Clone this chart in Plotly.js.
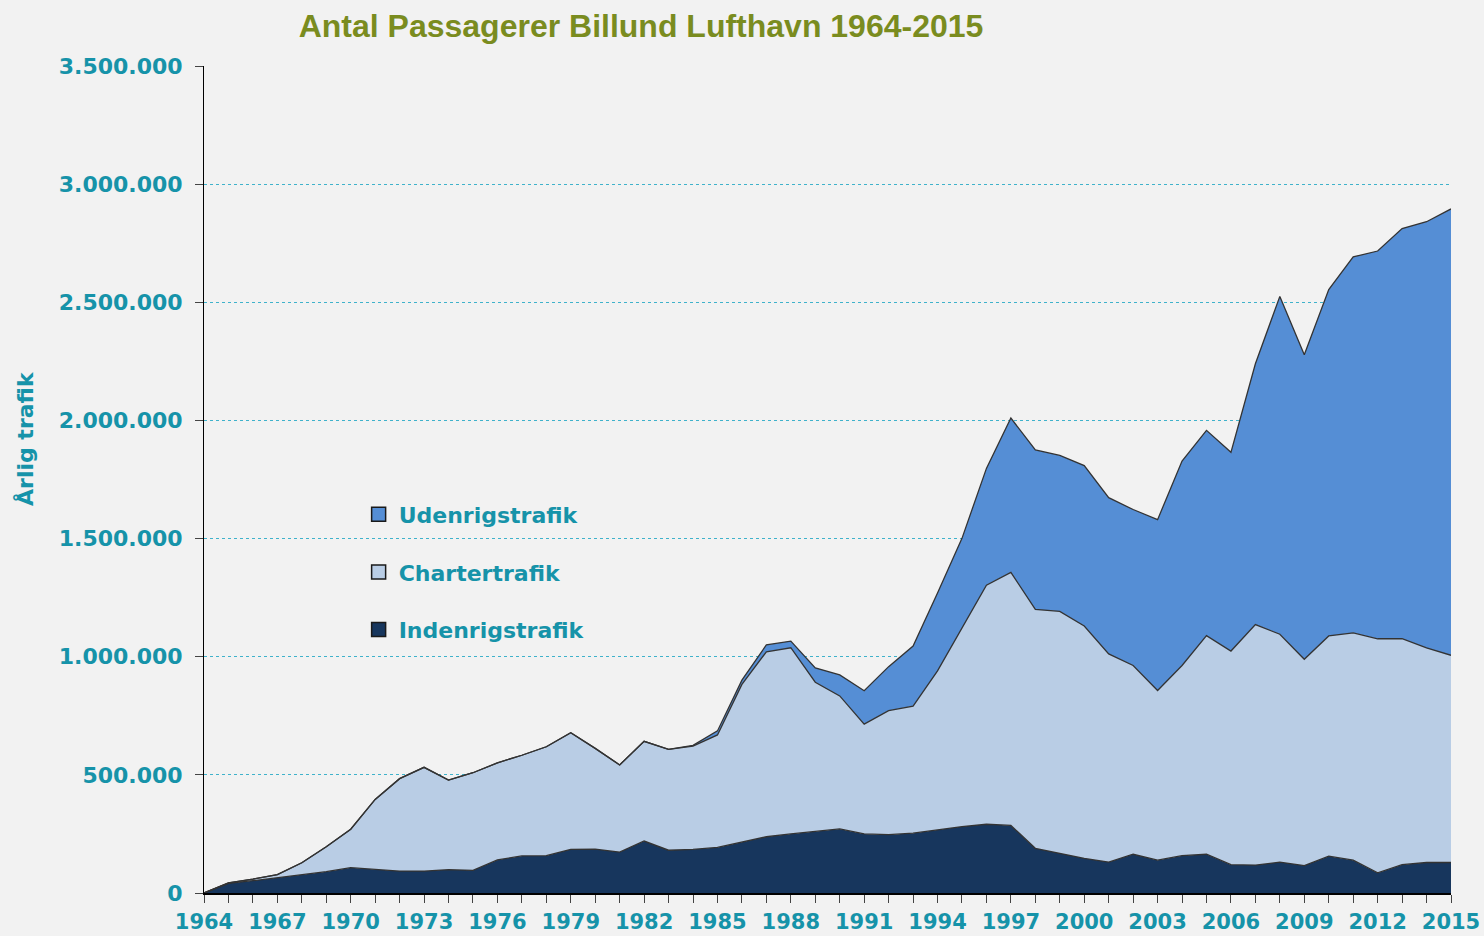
<!DOCTYPE html>
<html>
<head>
<meta charset="utf-8">
<script src="https://cdn.plot.ly/plotly-3.0.1.min.js"></script>
<style>
  html, body { margin: 0; padding: 0; background: #f2f2f2; }
  #chart { width: 1484px; height: 936px; }
</style>
</head>
<body>
<div id="chart"></div>
<script>
const years = [];
for (let y = 1964; y <= 2015; y++) years.push(y);

const indenrigstrafik = [
  0, 41000, 52000, 65000, 78000, 90000, 107000, 101000, 93000, 93000,
  99000, 96000, 140000, 157000, 158000, 185000, 186000, 173000, 220000, 181000,
  185000, 193000, 215000, 238000, 250000, 260000, 271000, 250000, 247000, 253000,
  267000, 281000, 291000, 286000, 189000, 168000, 147000, 131000, 164000, 139000,
  158000, 164000, 120000, 118000, 131000, 116000, 156000, 139000, 85000, 120000,
  129000, 129000
];

const chartertrafik = [
  0, 2000, 7000, 13000, 50000, 106000, 163000, 295000, 391000, 439000,
  379000, 413000, 411000, 426000, 461000, 493000, 426000, 369000, 422000, 427000,
  437000, 476000, 668000, 783000, 788000, 632000, 563000, 465000, 525000, 538000,
  673000, 843000, 1012000, 1071000, 1011000, 1024000, 983000, 881000, 799000, 718000,
  805000, 925000, 904000, 1018000, 964000, 873000, 932000, 962000, 991000, 956000,
  908000, 877000
];

const udenrigstrafik = [
  0, 0, 0, 0, 0, 0, 0, 0, 0, 0,
  0, 0, 0, 0, 0, 0, 0, 0, 0, 0,
  3000, 17000, 18000, 29000, 28000, 61000, 89000, 141000, 186000, 254000,
  330000, 377000, 494000, 653000, 675000, 660000, 679000, 661000, 660000, 723000,
  865000, 869000, 841000, 1104000, 1430000, 1289000, 1466000, 1591000, 1641000, 1736000,
  1804000, 1889000
];

const seriesNames = ["Indenrigstrafik", "Chartertrafik", "Udenrigstrafik"];
const seriesColors = ["#17365d", "#b9cde5", "#558ed5"];
const seriesData = [indenrigstrafik, chartertrafik, udenrigstrafik];

const teal = "#1693a9";
const lineColor = "#333333";

const traces = [];
seriesData.forEach((vals, i) => {
  traces.push({
    type: "scatter",
    mode: "lines",
    x: years,
    y: vals,
    stackgroup: "one",
    fillcolor: seriesColors[i],
    line: { color: lineColor, width: 1.3 },
    name: seriesNames[i],
    showlegend: false,
    hoverinfo: "x+y+name"
  });
});
// legend entries (square swatches), top to bottom: Udenrigs, Charter, Indenrigs
[2, 1, 0].forEach((i, k) => {
  traces.push({
    type: "scatter",
    mode: "markers",
    x: [null],
    y: [null],
    name: seriesNames[i],
    legendgroup: "g" + k,
    legendrank: k + 1,
    marker: { symbol: "square", size: 14, color: seriesColors[i], line: { color: "#1a1a1a", width: 1.5 } },
    showlegend: true
  });
});

const layout = {
  width: 1484,
  height: 936,
  paper_bgcolor: "#f2f2f2",
  plot_bgcolor: "#f2f2f2",
  separators: ",.",
  margin: { l: 204, r: 33, t: 66, b: 43, pad: 0 },
  showlegend: true,
  title: {
    text: "Antal Passagerer Billund Lufthavn 1964-2015",
    font: { family: "Liberation Sans Narrow, Liberation Sans, Arial", size: 32, color: "#7a8c1f", weight: "bold" },
    x: 641 / 1484, xanchor: "center", xref: "container",
    y: 1 - 26 / 936, yanchor: "middle", yref: "container"
  },
  legend: {
    x: 0.124, xanchor: "left",
    y: 0.483, yanchor: "top",
    bgcolor: "rgba(0,0,0,0)",
    font: { family: "DejaVu Sans", size: 22, color: teal, weight: "bold" },
    tracegroupgap: 26,
    itemwidth: 30,
    traceorder: "grouped"
  },
  xaxis: {
    range: [1964, 2015],
    tick0: 1964,
    dtick: 3,
    ticks: "outside",
    ticklen: 8,
    tickcolor: "#444",
    tickwidth: 1,
    minor: { dtick: 1, ticks: "outside", ticklen: 8, tickcolor: "#444", tickwidth: 1, showgrid: false },
    showgrid: false,
    zeroline: false,
    showline: true,
    linecolor: "#000",
    linewidth: 2,
    tickfont: { family: "DejaVu Sans", size: 21, color: teal, weight: "bold" },
    ticklabelstandoff: 1,
    fixedrange: true
  },
  yaxis: {
    range: [0, 3500000],
    dtick: 500000,
    tickformat: ",d",
    ticks: "outside",
    ticklen: 8,
    tickcolor: "#444",
    showgrid: true,
    gridcolor: "#3fb2cb",
    griddash: "dot",
    gridwidth: 1,
    zeroline: false,
    showline: true,
    linecolor: "#000",
    linewidth: 1,
    tickfont: { family: "DejaVu Sans", size: 22, color: teal, weight: "bold" },
    ticklabelstandoff: 8,
    fixedrange: true
  },
  annotations: [
    {
      text: "Årlig trafik",
      xref: "paper", yref: "paper",
      x: (25 - 204) / 1247, y: (893 - 438) / 827,
      xanchor: "center", yanchor: "middle",
      textangle: -90,
      showarrow: false,
      font: { family: "DejaVu Sans", size: 22, color: teal, weight: "bold" }
    }
  ]
};

Plotly.newPlot("chart", traces, layout, { displayModeBar: false, staticPlot: true });
</script>
</body>
</html>
